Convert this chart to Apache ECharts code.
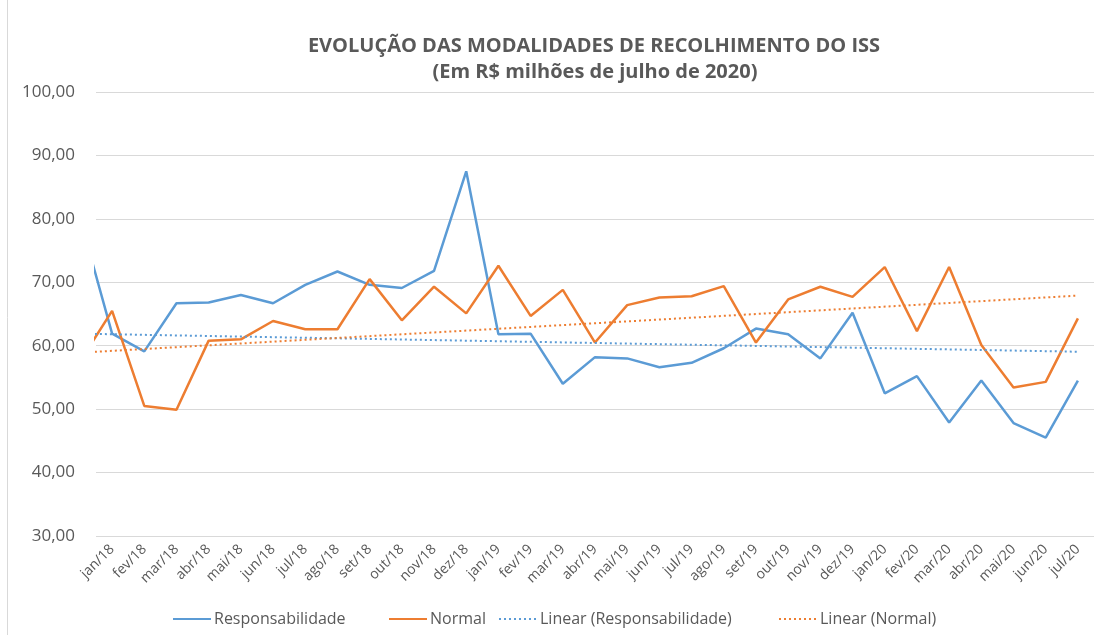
<!DOCTYPE html>
<html>
<head>
<meta charset="utf-8">
<script src="https://cdn.jsdelivr.net/npm/echarts@6/dist/echarts.min.js"></script>
<style>
  html, body { margin: 0; padding: 0; background: #fff; }
  #main { width: 1100px; height: 635px; }
</style>
</head>
<body>
<div id="main"></div>
<script>
// meses (o primeiro, dez/17, fica fora da área visível, só a linha aparece)
var months = ['dez/17',
  'jan/18','fev/18','mar/18','abr/18','mai/18','jun/18','jul/18','ago/18','set/18','out/18','nov/18','dez/18',
  'jan/19','fev/19','mar/19','abr/19','mai/19','jun/19','jul/19','ago/19','set/19','out/19','nov/19','dez/19',
  'jan/20','fev/20','mar/20','abr/20','mai/20','jun/20','jul/20']

var responsabilidade = [80.2,
  61.9, 59.1, 66.7, 66.8, 68.0, 66.7, 69.6, 71.7, 69.6, 69.1, 71.8, 87.5,
  61.8, 61.9, 54.0, 58.2, 58.0, 56.6, 57.3, 59.6, 62.7, 61.8, 58.0, 65.2,
  52.5, 55.2, 47.9, 54.5, 47.8, 45.5, 54.5]

var normal = [57.5,
  65.5, 50.5, 49.9, 60.8, 61.0, 63.9, 62.6, 62.6, 70.5, 64.0, 69.3, 65.1,
  72.6, 64.7, 68.8, 60.5, 66.4, 67.6, 67.8, 69.4, 60.5, 67.3, 69.3, 67.7,
  72.4, 62.3, 72.4, 60.1, 53.4, 54.3, 64.3]

// linhas de tendência: valor no início e no fim
var trendResp = [61.9, 59.05]
var trendNormal = [58.9, 67.9]

var yTicks = [30, 40, 50, 60, 70, 80, 90, 100]

var seriesNames = ['Responsabilidade', 'Normal', 'Linear (Responsabilidade)', 'Linear (Normal)']
var legendLeft = [167, 383, 493, 773]

var labelIdx = []
for (var i = 1; i < months.length; i++) labelIdx.push(i)

function pairs(arr) {
  return arr.map(function (v, i) { return [i, v] })
}
var last = months.length - 1

var font = '"Open Sans", sans-serif'
var grey = '#595959'

// uma legenda por item, para acertar as posições como no Excel
var legends = seriesNames.map(function (name, i) {
  return {
    left: legendLeft[i], top: 606,
    itemWidth: 38, itemHeight: 10,
    itemStyle: { opacity: 0 },
    textStyle: { fontFamily: font, fontSize: 16, color: grey, padding: [0, 0, 0, -2] },
    data: [name]
  }
})

var chart = echarts.init(document.getElementById('main'))
var option = {
  backgroundColor: '#fff',
  animation: false,
  title: [{
    text: 'EVOLUÇÃO DAS MODALIDADES DE RECOLHIMENTO DO ISS',
    left: 589, top: 31, textAlign: 'center',
    textStyle: { fontFamily: font, fontSize: 20, fontWeight: 'bold', color: grey }
  }, {
    text: '(Em R$ milhões de julho de 2020)',
    left: 590, top: 57, textAlign: 'center',
    textStyle: { fontFamily: font, fontSize: 20, fontWeight: 'bold', color: grey }
  }],
  legend: legends,
  grid: { left: 96, right: 6, top: 92, bottom: 99 },
  xAxis: {
    type: 'value',
    min: 0.5, max: last + 0.5,
    axisLine: { show: false },
    axisTick: { show: false },
    splitLine: { show: false },
    axisLabel: {
      customValues: labelIdx,
      rotate: 45,
      margin: 11,
      fontFamily: font, fontSize: 14, color: grey,
      formatter: function (v) { return months[Math.round(v)] }
    }
  },
  yAxis: {
    type: 'value',
    min: yTicks[0], max: yTicks[yTicks.length - 1], interval: 10,
    axisLine: { show: false },
    axisTick: { show: false },
    splitLine: { lineStyle: { color: '#D9D9D9', width: 1 } },
    axisLabel: {
      margin: 21,
      fontFamily: font, fontSize: 17, color: grey,
      formatter: function (v) { return v.toFixed(2).replace('.', ',') }
    }
  },
  series: [{
    name: seriesNames[0], type: 'line', symbol: 'none', clip: true,
    data: pairs(responsabilidade),
    itemStyle: { color: '#5B9BD5' },
    lineStyle: { color: '#5B9BD5', width: 2.5 }
  }, {
    name: seriesNames[1], type: 'line', symbol: 'none', clip: true,
    data: pairs(normal),
    itemStyle: { color: '#ED7D31' },
    lineStyle: { color: '#ED7D31', width: 2.5 }
  }, {
    name: seriesNames[2], type: 'line', symbol: 'none', clip: true,
    data: [[0, trendResp[0]], [last, trendResp[1]]],
    itemStyle: { color: '#5B9BD5' },
    lineStyle: { color: '#5B9BD5', width: 2, type: [2, 3] }
  }, {
    name: seriesNames[3], type: 'line', symbol: 'none', clip: true,
    data: [[0, trendNormal[0]], [last, trendNormal[1]]],
    itemStyle: { color: '#ED7D31' },
    lineStyle: { color: '#ED7D31', width: 2, type: [2, 3] }
  }],
  graphic: [{
    type: 'line', silent: true,
    shape: { x1: 7.5, y1: 0, x2: 7.5, y2: 635 },
    style: { stroke: '#D9D9D9', lineWidth: 1 }
  }]
}
chart.setOption(option)
</script>
</body>
</html>
